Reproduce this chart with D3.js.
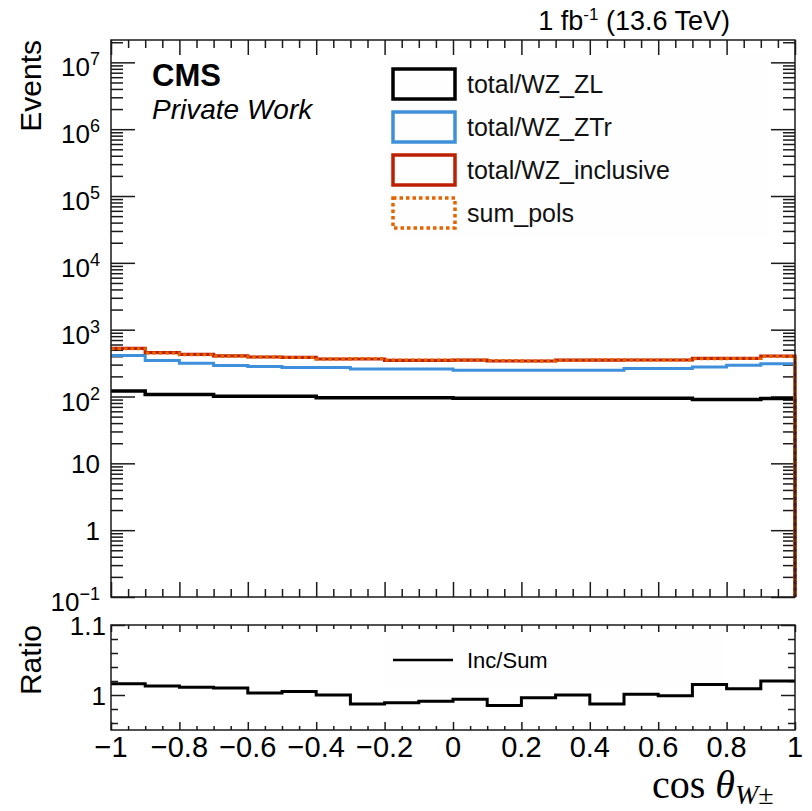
<!DOCTYPE html>
<html>
<head>
<meta charset="utf-8">
<script src="https://cdn.jsdelivr.net/npm/d3@7"></script>
<style>
  body { margin: 0; background: #fff; }
  text { font-family: "Liberation Sans", Arial, Helvetica, sans-serif; fill: #000; }
</style>
</head>
<body>
<div id="chart"></div>
<script>
// bin edges of cos(theta_W)
const binEdges = [-1, -0.9, -0.8, -0.7, -0.6, -0.5, -0.4, -0.3, -0.2, -0.1, 0,
                  0.1, 0.2, 0.3, 0.4, 0.5, 0.6, 0.7, 0.8, 0.9, 1];

// event yields per bin
const wzZL        = [121, 107, 107, 101, 101, 101, 96, 96, 96, 96, 94, 94, 94, 94, 94, 94, 94, 90, 90, 93];
const wzZTr       = [410, 346, 314, 292, 280, 272, 272, 258, 258, 258, 247, 247, 247, 247, 247, 262, 262, 277, 293, 310];
const wzInclusive = [525, 453, 428, 405, 390, 386, 364, 364, 348, 348, 350, 340, 340, 350, 350, 352, 352, 373, 373, 404];
const sumPols     = [517, 447, 423, 401, 389, 384, 364, 369, 352, 351, 352, 345, 341, 350, 355, 352, 352, 367, 370, 396];

// ratio Inc/Sum
const ratioIncSum = [1.016, 1.013, 1.011, 1.010, 1.003, 1.005, 1.000, 0.987, 0.989, 0.991,
                     0.994, 0.985, 0.996, 1.000, 0.987, 1.001, 0.999, 1.015, 1.009, 1.020];

const xTickLabels = [-1, -0.8, -0.6, -0.4, -0.2, 0, 0.2, 0.4, 0.6, 0.8, 1];
const yDecades = [0.1, 1, 10, 100, 1e3, 1e4, 1e5, 1e6, 1e7];

const legendEntries = [
    {name: "total/WZ_ZL", color: "#000000", dash: null},
    {name: "total/WZ_ZTr", color: "#3f90da", dash: null},
    {name: "total/WZ_inclusive", color: "#bd1f01", dash: null},
    {name: "sum_pols", color: "#e76300", dash: "3.5,3"}
];

const width = 812, height = 811;
const left = 111, right = 795;
const mainTop = 40, mainBottom = 597;
const ratioTop = 625, ratioBottom = 730;
const frameColor = "#1a1a1a";

var svg = d3.select("#chart").append("svg")
    .attr("width", width)
    .attr("height", height);

var x = d3.scaleLinear().domain([-1, 1]).range([left, right]);
var y = d3.scaleLog().domain([0.1, 2.16e7]).range([mainBottom, mainTop]);
var yr = d3.scaleLinear().domain([0.95, 1.1]).range([ratioBottom, ratioTop]);

// faint legend boxes
svg.append("rect").attr("x", 386).attr("y", 52).attr("width", 384).attr("height", 186).attr("fill", "#fefefe");
svg.append("rect").attr("x", 382).attr("y", 632).attr("width", 342).attr("height", 55).attr("fill", "#fefefe");

// ---- ticks helper
function xTicks(g, yPos, major, minor, dir) {
    // dir = -1 ticks go up, +1 ticks go down
    var minorVals = d3.range(-0.95, 1.0, 0.05).filter(function (v) {
        return Math.abs(Math.round(v * 5) - v * 5) > 1e-6;
    });
    g.append("g").attr("transform", "translate(0," + yPos + ")")
        .call(d3.axisBottom(x).tickValues(xTickLabels).tickSize(dir * major).tickFormat(""));
    g.append("g").attr("transform", "translate(0," + yPos + ")")
        .call(d3.axisBottom(x).tickValues(minorVals).tickSize(dir * minor).tickFormat(""));
}

var axes = svg.append("g").attr("class", "axes");

// main panel x ticks (bottom and top)
xTicks(axes, mainBottom, 15, 8, -1);
xTicks(axes, mainTop, 15, 8, 1);

// main panel y ticks, log minors
var yMinor = [];
yDecades.forEach(function (d) {
    for (var k = 2; k <= 9; k++) {
        if (d * k <= y.domain()[1]) yMinor.push(d * k);
    }
});
axes.append("g").attr("transform", "translate(" + left + ",0)")
    .call(d3.axisLeft(y).tickValues(yDecades).tickSize(-24).tickFormat(""));
axes.append("g").attr("transform", "translate(" + left + ",0)")
    .call(d3.axisLeft(y).tickValues(yMinor).tickSize(-12).tickFormat(""));
axes.append("g").attr("transform", "translate(" + right + ",0)")
    .call(d3.axisRight(y).tickValues(yDecades).tickSize(-24).tickFormat(""));
axes.append("g").attr("transform", "translate(" + right + ",0)")
    .call(d3.axisRight(y).tickValues(yMinor).tickSize(-12).tickFormat(""));

// ratio panel ticks
xTicks(axes, ratioBottom, 8, 4, -1);
xTicks(axes, ratioTop, 7, 4, 1);
var rMajor = [1.0, 1.1];
var rMinor = [0.96, 0.98, 1.02, 1.04, 1.06, 1.08];
axes.append("g").attr("transform", "translate(" + left + ",0)")
    .call(d3.axisLeft(yr).tickValues(rMajor).tickSize(-14).tickFormat(""));
axes.append("g").attr("transform", "translate(" + left + ",0)")
    .call(d3.axisLeft(yr).tickValues(rMinor).tickSize(-7).tickFormat(""));
axes.append("g").attr("transform", "translate(" + right + ",0)")
    .call(d3.axisRight(yr).tickValues(rMajor).tickSize(-14).tickFormat(""));
axes.append("g").attr("transform", "translate(" + right + ",0)")
    .call(d3.axisRight(yr).tickValues(rMinor).tickSize(-7).tickFormat(""));

axes.selectAll(".domain").remove();
axes.selectAll(".tick line").attr("stroke", frameColor).attr("stroke-width", 1.5);

// ---- histograms
function histPath(values, scaleY, dropTo) {
    var pts = [];
    values.forEach(function (v, i) {
        pts.push([binEdges[i], v]);
        pts.push([binEdges[i + 1], v]);
    });
    if (dropTo !== undefined) pts.push([binEdges[binEdges.length - 1], dropTo]);
    return d3.line()
        .x(function (p) { return x(p[0]); })
        .y(function (p) { return scaleY(p[1]); })(pts);
}

var hists = svg.append("g").attr("fill", "none");
hists.append("path").attr("d", histPath(wzZL, y, 0.1))
    .attr("stroke", "#000").attr("stroke-width", 3.5);
hists.append("path").attr("d", histPath(wzZTr, y, 0.1))
    .attr("stroke", "#3f90da").attr("stroke-width", 3);
hists.append("path").attr("d", histPath(wzInclusive, y, 0.1))
    .attr("stroke", "#bd1f01").attr("stroke-width", 3.2);
hists.append("path").attr("d", histPath(sumPols, y, 0.1))
    .attr("stroke", "#e76300").attr("stroke-width", 3).attr("stroke-dasharray", "3.5,3");

hists.append("path").attr("d", histPath(ratioIncSum, yr))
    .attr("stroke", "#000").attr("stroke-width", 3);

// ---- frames
[[mainTop, mainBottom], [ratioTop, ratioBottom]].forEach(function (f) {
    svg.append("rect")
        .attr("x", left).attr("y", f[0])
        .attr("width", right - left).attr("height", f[1] - f[0])
        .attr("fill", "none").attr("stroke", frameColor).attr("stroke-width", 1.5);
});

// ---- tick labels
var supers = {0.1: "\u22121", 100: "2", 1e3: "3", 1e4: "4", 1e5: "5", 1e6: "6", 1e7: "7"};
yDecades.forEach(function (d) {
    var t = svg.append("text")
        .attr("x", 100)
        .attr("text-anchor", "end")
        .style("font-size", "26px");
    if (supers[d] !== undefined) {
        t.attr("y", y(d) + 14);
        t.append("tspan").text("10");
        t.append("tspan").attr("dy", -11).style("font-size", "18px").text(supers[d]);
    } else {
        t.attr("y", y(d) + 9.5).text(d === 1 ? "1" : "10");
    }
});

svg.selectAll(".rlab").data(rMajor).enter().append("text")
    .attr("x", 106)
    .attr("y", function (d) { return yr(d) + 9.5; })
    .attr("text-anchor", "end")
    .style("font-size", "26px")
    .text(function (d) { return d === 1 ? "1" : "1.1"; });

svg.selectAll(".xlab").data(xTickLabels).enter().append("text")
    .attr("x", function (d) { return x(d); })
    .attr("y", 757)
    .attr("text-anchor", "middle")
    .style("font-size", "29px")
    .text(function (d) { return d < 0 ? "\u2212" + Math.abs(d) : String(d); });

// ---- axis titles
svg.append("text")
    .attr("transform", "translate(41," + mainTop + ") rotate(-90)")
    .attr("text-anchor", "end")
    .style("font-size", "30px")
    .text("Events");

svg.append("text")
    .attr("transform", "translate(41," + ratioTop + ") rotate(-90)")
    .attr("text-anchor", "end")
    .style("font-size", "30px")
    .text("Ratio");

var xt = svg.append("text")
    .attr("x", 652).attr("y", 798)
    .style("font-family", "'Liberation Serif', 'DejaVu Serif', serif")
    .style("font-size", "40px");
xt.append("tspan").text("cos ");
xt.append("tspan").style("font-style", "italic").text("\u03b8");
xt.append("tspan").attr("dy", 6).style("font-style", "italic").style("font-size", "28px").text("W");
xt.append("tspan").style("font-size", "28px").text("\u00b1");

// ---- CMS labels
svg.append("text").attr("x", 152).attr("y", 86)
    .style("font-size", "31px").style("font-weight", "bold").text("CMS");
svg.append("text").attr("x", 152).attr("y", 119)
    .style("font-size", "28px").style("font-style", "italic").text("Private Work");

var lumi = svg.append("text").attr("x", 730).attr("y", 30)
    .attr("text-anchor", "end").style("font-size", "27px");
lumi.append("tspan").text("1 fb");
lumi.append("tspan").attr("dy", -10).style("font-size", "17px").text("-1");
lumi.append("tspan").attr("dy", 10).text(" (13.6 TeV)");

// ---- legend
var leg = svg.append("g");
legendEntries.forEach(function (e, i) {
    var cy = 84 + i * 43;
    leg.append("rect")
        .attr("x", 393).attr("y", cy - 15)
        .attr("width", 62).attr("height", 30)
        .attr("fill", "none")
        .attr("stroke", e.color)
        .attr("stroke-width", 3.5)
        .attr("stroke-dasharray", e.dash);
    leg.append("text")
        .attr("x", 467).attr("y", cy + 9)
        .style("font-size", "25px")
        .style("fill", "#111")
        .text(e.name);
});

leg.append("line")
    .attr("x1", 393).attr("x2", 453).attr("y1", 660).attr("y2", 660)
    .attr("stroke", "#000").attr("stroke-width", 2.5);
leg.append("text").attr("x", 467).attr("y", 668)
    .style("font-size", "22px").text("Inc/Sum");
</script>
</body>
</html>
